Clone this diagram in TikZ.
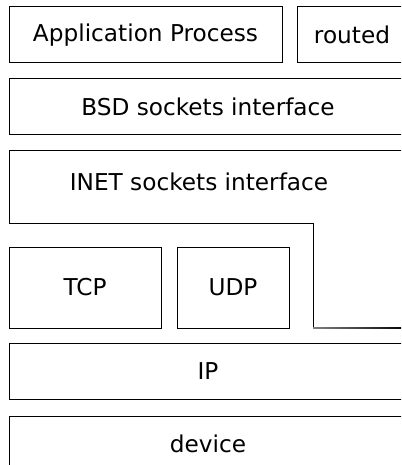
\documentclass[tikz,border=0pt]{standalone}
\usepackage{fontspec}
\setmainfont{DejaVu Sans}
\begin{document}
\begin{tikzpicture}[
x=1pt,y=-1pt,
line width=1pt,
layer/.style={draw,rectangle,inner sep=0pt,outer sep=0pt,minimum height=56pt,
	font=\fontsize{23.2}{27}\selectfont},
label text/.style={inner sep=0pt,font=\fontsize{23.2}{27}\selectfont}
]
\clip (0,0) rectangle (401,465);
\node[layer,minimum width=273pt](app) at (145.5,35){Application Process};
\node[layer,minimum width=110pt](routed) at (352,35){routed};
\node[layer,minimum width=398pt](bsd) at (208,107){BSD sockets interface};
% INET layer wraps round TCP and UDP
\draw (313,328) -- (313,223) -- (9,223) -- (9,151) -- (407,151) -- (407,328);
\shade[left color=gray,right color=black] (313,327.5) rectangle (407,328.5);
\node[label text](inet) at (199,182){INET sockets interface};
\node[layer,minimum width=152pt,minimum height=81pt](tcp) at (85,287.5){TCP};
\node[layer,minimum width=112pt,minimum height=81pt](udp) at (233,287.5){UDP};
\node[layer,minimum width=398pt](ip) at (208,371){IP};
\node[layer,minimum width=398pt](device) at (208,444){device};
\end{tikzpicture}
\end{document}
